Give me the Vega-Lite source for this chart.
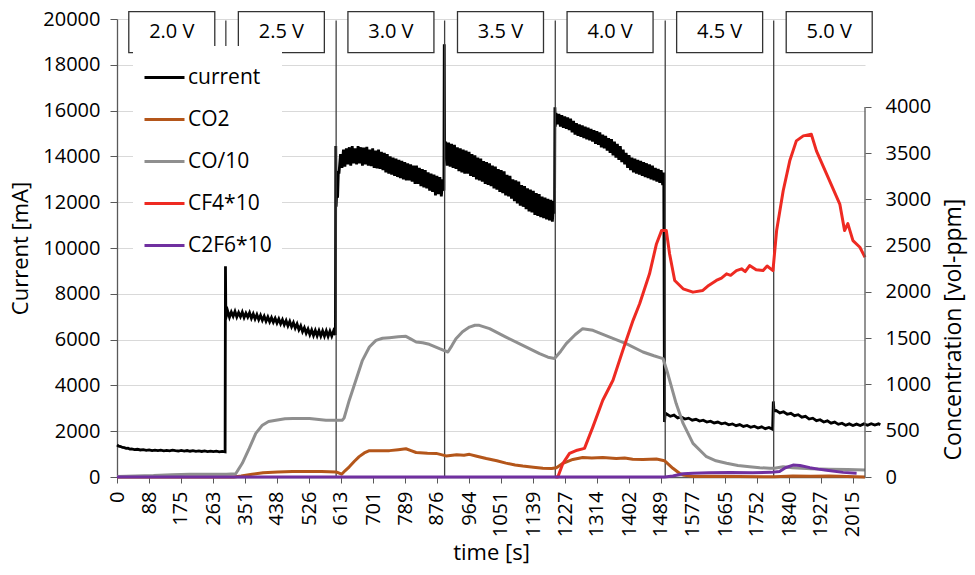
{
  "$schema": "https://vega.github.io/schema/vega-lite/v6.json",
  "width": 748,
  "height": 458,
  "autosize": {"type": "none"},
  "padding": {"left": 117, "top": 19, "right": 110, "bottom": 98},
  "background": "white",
  "config": {
    "view": {"stroke": null},
    "font": "Open Sans",
    "axis": {
      "labelFont": "Open Sans", "labelFontSize": 20, "labelColor": "#000000",
      "titleFont": "Open Sans", "titleFontSize": 22, "titleFontWeight": "normal", "titleColor": "#000000",
      "domainColor": "#595959", "tickColor": "#595959", "gridColor": "#d9d9d9"
    }
  },
  "datasets": {
    "cur": [
      {"t":0,"v":1400},{"t":5,"v":1350},{"t":10,"v":1330},{"t":15,"v":1290},{"t":20,"v":1280},{"t":25,"v":1250},{"t":30,"v":1255},{"t":35,"v":1220},{"t":40,"v":1230},{"t":48,"v":1195},{"t":56,"v":1210},{"t":64,"v":1180},{"t":72,"v":1195},{"t":80,"v":1160},{"t":88,"v":1185},{"t":96,"v":1150},{"t":104,"v":1175},{"t":112,"v":1150},{"t":120,"v":1170},{"t":128,"v":1140},{"t":136,"v":1165},{"t":144,"v":1140},{"t":152,"v":1170},{"t":160,"v":1150},{"t":168,"v":1135},{"t":176,"v":1160},{"t":184,"v":1130},{"t":192,"v":1155},{"t":200,"v":1125},{"t":208,"v":1150},{"t":216,"v":1120},{"t":224,"v":1140},{"t":232,"v":1115},{"t":240,"v":1140},{"t":248,"v":1110},{"t":256,"v":1130},{"t":264,"v":1105},{"t":272,"v":1125},{"t":280,"v":1100},{"t":288,"v":1120},{"t":296,"v":1100},
      {"t":297,"v":9200},{"t":298,"v":7050},
      {"t":299,"v":7000},{"t":303,"v":7250},{"t":308,"v":6980},{"t":313,"v":7200},{"t":318,"v":7020},{"t":323,"v":7230},{"t":328,"v":6990},{"t":333,"v":7180},{"t":338,"v":7000},{"t":343,"v":7200},{"t":348,"v":6960},{"t":353,"v":7150},{"t":358,"v":6980},{"t":363,"v":7170},{"t":368,"v":6930},{"t":373,"v":7120},{"t":378,"v":6900},{"t":383,"v":7090},{"t":388,"v":6870},{"t":393,"v":7060},{"t":398,"v":6840},{"t":403,"v":7020},{"t":408,"v":6800},{"t":413,"v":6990},{"t":418,"v":6780},{"t":423,"v":6960},{"t":428,"v":6760},{"t":433,"v":6930},{"t":438,"v":6720},{"t":443,"v":6900},{"t":448,"v":6690},{"t":453,"v":6870},{"t":458,"v":6650},{"t":463,"v":6830},{"t":468,"v":6600},{"t":473,"v":6790},{"t":478,"v":6560},{"t":483,"v":6740},{"t":488,"v":6500},{"t":493,"v":6680},{"t":498,"v":6430},{"t":503,"v":6600},{"t":508,"v":6350},{"t":513,"v":6520},{"t":518,"v":6280},{"t":523,"v":6460},{"t":528,"v":6220},{"t":533,"v":6420},{"t":538,"v":6180},{"t":543,"v":6400},{"t":548,"v":6170},{"t":553,"v":6390},{"t":558,"v":6160},{"t":563,"v":6380},{"t":568,"v":6150},{"t":573,"v":6380},{"t":578,"v":6140},{"t":583,"v":6370},{"t":588,"v":6150},{"t":593,"v":6380},{"t":598,"v":6200},
      {"t":599,"v":14450},{"t":600,"v":11800},{"t":602,"v":12600},{"t":604,"v":12200},{"t":606,"v":13300},
      {"t":608,"v":13300},{"t":612,"v":14100},{"t":616,"v":13500},{"t":620,"v":14300},{"t":624,"v":13550},{"t":628,"v":14350},{"t":632,"v":13650},{"t":636,"v":14400},{"t":640,"v":13600},{"t":644,"v":14450},{"t":648,"v":13700},{"t":652,"v":14350},{"t":656,"v":13650},{"t":660,"v":14450},{"t":664,"v":13700},{"t":668,"v":14400},{"t":672,"v":13600},{"t":676,"v":14380},{"t":680,"v":13650},{"t":684,"v":14420},{"t":688,"v":13600},{"t":692,"v":14300},{"t":696,"v":13580},{"t":700,"v":14350},{"t":704,"v":13500},{"t":708,"v":14250},{"t":712,"v":13480},{"t":716,"v":14300},{"t":720,"v":13450},{"t":724,"v":14200},{"t":728,"v":13400},{"t":732,"v":14150},{"t":736,"v":13300},{"t":740,"v":14100},{"t":744,"v":13250},{"t":748,"v":14000},{"t":752,"v":13200},{"t":756,"v":13950},{"t":760,"v":13150},{"t":764,"v":13900},{"t":768,"v":13100},{"t":772,"v":13850},{"t":776,"v":13050},{"t":780,"v":13800},{"t":784,"v":13000},{"t":788,"v":13750},{"t":792,"v":12950},{"t":796,"v":13700},{"t":800,"v":12950},{"t":804,"v":13650},{"t":808,"v":12900},{"t":812,"v":13600},{"t":816,"v":12800},{"t":820,"v":13600},{"t":824,"v":12800},{"t":828,"v":13500},{"t":832,"v":12700},{"t":836,"v":13450},{"t":840,"v":12650},{"t":844,"v":13400},{"t":848,"v":12600},{"t":852,"v":13300},{"t":856,"v":12500},{"t":860,"v":13250},{"t":864,"v":12450},{"t":868,"v":13200},{"t":872,"v":12300},{"t":876,"v":13150},{"t":880,"v":12350},{"t":884,"v":13100},{"t":888,"v":12250},{"t":892,"v":13000},{"t":895,"v":12500},
      {"t":896,"v":18900},{"t":897,"v":14000},
      {"t":900,"v":14650},{"t":904,"v":13600},{"t":908,"v":14600},{"t":912,"v":13550},{"t":916,"v":14550},{"t":920,"v":13500},{"t":924,"v":14500},{"t":928,"v":13450},{"t":932,"v":14400},{"t":936,"v":13350},{"t":940,"v":14350},{"t":944,"v":13300},{"t":948,"v":14300},{"t":952,"v":13250},{"t":956,"v":14250},{"t":960,"v":13250},{"t":964,"v":14200},{"t":968,"v":13150},{"t":972,"v":14100},{"t":976,"v":13100},{"t":980,"v":14050},{"t":984,"v":13000},{"t":988,"v":13950},{"t":992,"v":12950},{"t":996,"v":13900},{"t":1000,"v":12900},{"t":1004,"v":13800},{"t":1008,"v":12800},{"t":1012,"v":13750},{"t":1016,"v":12750},{"t":1020,"v":13700},{"t":1024,"v":12700},{"t":1028,"v":13600},{"t":1032,"v":12600},{"t":1036,"v":13550},{"t":1040,"v":12550},{"t":1044,"v":13450},{"t":1048,"v":12450},{"t":1052,"v":13400},{"t":1056,"v":12400},{"t":1060,"v":13350},{"t":1064,"v":12300},{"t":1068,"v":13200},{"t":1072,"v":12250},{"t":1076,"v":13150},{"t":1080,"v":12150},{"t":1084,"v":13000},{"t":1088,"v":12050},{"t":1092,"v":12950},{"t":1096,"v":11950},{"t":1100,"v":12900},{"t":1104,"v":11850},{"t":1108,"v":12750},{"t":1112,"v":11800},{"t":1116,"v":12700},{"t":1120,"v":11700},{"t":1124,"v":12600},{"t":1128,"v":11600},{"t":1132,"v":12550},{"t":1136,"v":11550},{"t":1140,"v":12500},{"t":1144,"v":11450},{"t":1148,"v":12400},{"t":1152,"v":11400},{"t":1156,"v":12350},{"t":1160,"v":11350},{"t":1164,"v":12250},{"t":1168,"v":11300},{"t":1172,"v":12200},{"t":1176,"v":11250},{"t":1180,"v":12150},{"t":1184,"v":11200},{"t":1188,"v":12100},{"t":1192,"v":11150},{"t":1196,"v":12050},
      {"t":1198,"v":11500},{"t":1199,"v":16150},{"t":1200,"v":15300},
      {"t":1202,"v":15900},{"t":1206,"v":15400},{"t":1210,"v":15850},{"t":1214,"v":15300},{"t":1218,"v":15800},{"t":1222,"v":15250},{"t":1226,"v":15750},{"t":1230,"v":15200},{"t":1234,"v":15700},{"t":1238,"v":15150},{"t":1242,"v":15650},{"t":1246,"v":15050},{"t":1250,"v":15550},{"t":1254,"v":14950},{"t":1258,"v":15450},{"t":1262,"v":14900},{"t":1266,"v":15400},{"t":1270,"v":14850},{"t":1274,"v":15350},{"t":1278,"v":14800},{"t":1282,"v":15300},{"t":1286,"v":14750},{"t":1290,"v":15250},{"t":1294,"v":14700},{"t":1298,"v":15200},{"t":1302,"v":14650},{"t":1306,"v":15150},{"t":1310,"v":14550},{"t":1314,"v":15100},{"t":1318,"v":14500},{"t":1322,"v":15050},{"t":1326,"v":14400},{"t":1330,"v":14950},{"t":1334,"v":14350},{"t":1338,"v":14900},{"t":1342,"v":14250},{"t":1346,"v":14800},{"t":1350,"v":14150},{"t":1354,"v":14750},{"t":1358,"v":14050},{"t":1362,"v":14650},{"t":1366,"v":13950},{"t":1370,"v":14550},{"t":1374,"v":13850},{"t":1378,"v":14450},{"t":1382,"v":13750},{"t":1386,"v":14300},{"t":1390,"v":13650},{"t":1394,"v":14150},{"t":1398,"v":13500},{"t":1402,"v":14050},{"t":1406,"v":13400},{"t":1410,"v":13950},{"t":1414,"v":13300},{"t":1418,"v":13900},{"t":1422,"v":13250},{"t":1426,"v":13850},{"t":1430,"v":13200},{"t":1434,"v":13800},{"t":1438,"v":13150},{"t":1442,"v":13750},{"t":1446,"v":13100},{"t":1450,"v":13700},{"t":1454,"v":13050},{"t":1458,"v":13650},{"t":1462,"v":13000},{"t":1466,"v":13600},{"t":1470,"v":12950},{"t":1474,"v":13500},{"t":1478,"v":12900},{"t":1482,"v":13450},{"t":1486,"v":12850},{"t":1490,"v":13400},{"t":1494,"v":12750},{"t":1497,"v":13300},
      {"t":1499,"v":2400},{"t":1501,"v":2800},
      {"t":1505,"v":2750},{"t":1515,"v":2650},{"t":1525,"v":2700},{"t":1535,"v":2580},{"t":1545,"v":2620},{"t":1555,"v":2530},{"t":1565,"v":2570},{"t":1575,"v":2480},{"t":1585,"v":2520},{"t":1595,"v":2440},{"t":1605,"v":2480},{"t":1615,"v":2400},{"t":1625,"v":2440},{"t":1635,"v":2360},{"t":1645,"v":2400},{"t":1655,"v":2320},{"t":1665,"v":2360},{"t":1675,"v":2280},{"t":1685,"v":2320},{"t":1695,"v":2240},{"t":1705,"v":2290},{"t":1715,"v":2210},{"t":1725,"v":2250},{"t":1735,"v":2170},{"t":1745,"v":2220},{"t":1755,"v":2140},{"t":1765,"v":2190},{"t":1775,"v":2110},{"t":1785,"v":2160},{"t":1795,"v":2080},
      {"t":1797,"v":3300},{"t":1799,"v":2880},
      {"t":1805,"v":2900},{"t":1815,"v":2800},{"t":1825,"v":2850},{"t":1835,"v":2740},{"t":1845,"v":2780},{"t":1855,"v":2680},{"t":1865,"v":2720},{"t":1875,"v":2610},{"t":1885,"v":2650},{"t":1895,"v":2530},{"t":1905,"v":2570},{"t":1915,"v":2460},{"t":1925,"v":2500},{"t":1935,"v":2400},{"t":1945,"v":2450},{"t":1955,"v":2350},{"t":1965,"v":2400},{"t":1975,"v":2300},{"t":1985,"v":2350},{"t":1995,"v":2260},{"t":2005,"v":2320},{"t":2015,"v":2250},{"t":2025,"v":2310},{"t":2035,"v":2250},{"t":2045,"v":2320},{"t":2055,"v":2260},{"t":2065,"v":2330},{"t":2075,"v":2270},{"t":2085,"v":2320},{"t":2090,"v":2280}
    ],
    "gas": [
      {"s":"CO2","t":0,"v":0},{"s":"CO2","t":320,"v":0},{"s":"CO2","t":340,"v":10},{"s":"CO2","t":370,"v":30},{"s":"CO2","t":400,"v":45},{"s":"CO2","t":440,"v":55},{"s":"CO2","t":480,"v":60},{"s":"CO2","t":520,"v":60},{"s":"CO2","t":560,"v":60},{"s":"CO2","t":600,"v":55},{"s":"CO2","t":615,"v":30},{"s":"CO2","t":625,"v":70},{"s":"CO2","t":636,"v":110},{"s":"CO2","t":650,"v":170},{"s":"CO2","t":663,"v":220},{"s":"CO2","t":677,"v":260},{"s":"CO2","t":691,"v":285},{"s":"CO2","t":720,"v":285},{"s":"CO2","t":746,"v":285},{"s":"CO2","t":770,"v":295},{"s":"CO2","t":791,"v":305},{"s":"CO2","t":805,"v":285},{"s":"CO2","t":819,"v":265},{"s":"CO2","t":850,"v":258},{"s":"CO2","t":874,"v":255},{"s":"CO2","t":901,"v":228},{"s":"CO2","t":930,"v":240},{"s":"CO2","t":950,"v":235},{"s":"CO2","t":965,"v":245},{"s":"CO2","t":985,"v":225},{"s":"CO2","t":1011,"v":200},{"s":"CO2","t":1040,"v":175},{"s":"CO2","t":1065,"v":150},{"s":"CO2","t":1090,"v":130},{"s":"CO2","t":1111,"v":118},{"s":"CO2","t":1140,"v":105},{"s":"CO2","t":1166,"v":95},{"s":"CO2","t":1190,"v":92},{"s":"CO2","t":1203,"v":100},{"s":"CO2","t":1221,"v":148},{"s":"CO2","t":1248,"v":190},{"s":"CO2","t":1275,"v":210},{"s":"CO2","t":1300,"v":205},{"s":"CO2","t":1330,"v":210},{"s":"CO2","t":1367,"v":200},{"s":"CO2","t":1390,"v":205},{"s":"CO2","t":1412,"v":192},{"s":"CO2","t":1440,"v":190},{"s":"CO2","t":1477,"v":195},{"s":"CO2","t":1499,"v":176},{"s":"CO2","t":1522,"v":94},{"s":"CO2","t":1540,"v":40},{"s":"CO2","t":1550,"v":22},{"s":"CO2","t":1577,"v":5},{"s":"CO2","t":1620,"v":8},{"s":"CO2","t":1700,"v":5},{"s":"CO2","t":1800,"v":3},{"s":"CO2","t":1850,"v":10},{"s":"CO2","t":1900,"v":8},{"s":"CO2","t":1950,"v":12},{"s":"CO2","t":2000,"v":5},{"s":"CO2","t":2048,"v":0},
      {"s":"CO/10","t":0,"v":5},{"s":"CO/10","t":50,"v":10},{"s":"CO/10","t":100,"v":15},{"s":"CO/10","t":150,"v":25},{"s":"CO/10","t":200,"v":30},{"s":"CO/10","t":250,"v":30},{"s":"CO/10","t":300,"v":30},{"s":"CO/10","t":325,"v":35},{"s":"CO/10","t":343,"v":148},{"s":"CO/10","t":362,"v":309},{"s":"CO/10","t":380,"v":471},{"s":"CO/10","t":398,"v":560},{"s":"CO/10","t":415,"v":600},{"s":"CO/10","t":435,"v":614},{"s":"CO/10","t":460,"v":630},{"s":"CO/10","t":481,"v":633},{"s":"CO/10","t":527,"v":633},{"s":"CO/10","t":572,"v":614},{"s":"CO/10","t":617,"v":614},{"s":"CO/10","t":622,"v":640},{"s":"CO/10","t":636,"v":830},{"s":"CO/10","t":654,"v":1046},{"s":"CO/10","t":672,"v":1261},{"s":"CO/10","t":691,"v":1405},{"s":"CO/10","t":709,"v":1477},{"s":"CO/10","t":727,"v":1500},{"s":"CO/10","t":746,"v":1506},{"s":"CO/10","t":770,"v":1515},{"s":"CO/10","t":791,"v":1520},{"s":"CO/10","t":805,"v":1490},{"s":"CO/10","t":819,"v":1459},{"s":"CO/10","t":837,"v":1450},{"s":"CO/10","t":855,"v":1434},{"s":"CO/10","t":883,"v":1387},{"s":"CO/10","t":906,"v":1351},{"s":"CO/10","t":917,"v":1420},{"s":"CO/10","t":928,"v":1495},{"s":"CO/10","t":946,"v":1570},{"s":"CO/10","t":965,"v":1620},{"s":"CO/10","t":980,"v":1640},{"s":"CO/10","t":992,"v":1639},{"s":"CO/10","t":1020,"v":1603},{"s":"CO/10","t":1065,"v":1512},{"s":"CO/10","t":1111,"v":1423},{"s":"CO/10","t":1157,"v":1333},{"s":"CO/10","t":1180,"v":1295},{"s":"CO/10","t":1198,"v":1280},{"s":"CO/10","t":1215,"v":1360},{"s":"CO/10","t":1230,"v":1441},{"s":"CO/10","t":1255,"v":1540},{"s":"CO/10","t":1275,"v":1603},{"s":"CO/10","t":1303,"v":1585},{"s":"CO/10","t":1349,"v":1512},{"s":"CO/10","t":1394,"v":1441},{"s":"CO/10","t":1440,"v":1351},{"s":"CO/10","t":1470,"v":1310},{"s":"CO/10","t":1495,"v":1280},{"s":"CO/10","t":1508,"v":1118},{"s":"CO/10","t":1531,"v":794},{"s":"CO/10","t":1550,"v":579},{"s":"CO/10","t":1577,"v":363},{"s":"CO/10","t":1614,"v":219},{"s":"CO/10","t":1640,"v":175},{"s":"CO/10","t":1669,"v":148},{"s":"CO/10","t":1700,"v":125},{"s":"CO/10","t":1732,"v":111},{"s":"CO/10","t":1760,"v":100},{"s":"CO/10","t":1787,"v":94},{"s":"CO/10","t":1800,"v":95},{"s":"CO/10","t":1824,"v":110},{"s":"CO/10","t":1850,"v":100},{"s":"CO/10","t":1900,"v":90},{"s":"CO/10","t":1950,"v":85},{"s":"CO/10","t":2000,"v":80},{"s":"CO/10","t":2048,"v":75},
      {"s":"CF4*10","t":1200,"v":0},{"s":"CF4*10","t":1207,"v":0},{"s":"CF4*10","t":1221,"v":148},{"s":"CF4*10","t":1239,"v":255},{"s":"CF4*10","t":1260,"v":290},{"s":"CF4*10","t":1280,"v":309},{"s":"CF4*10","t":1303,"v":542},{"s":"CF4*10","t":1330,"v":830},{"s":"CF4*10","t":1358,"v":1046},{"s":"CF4*10","t":1385,"v":1369},{"s":"CF4*10","t":1413,"v":1693},{"s":"CF4*10","t":1431,"v":1872},{"s":"CF4*10","t":1458,"v":2196},{"s":"CF4*10","t":1477,"v":2519},{"s":"CF4*10","t":1491,"v":2663},{"s":"CF4*10","t":1504,"v":2663},{"s":"CF4*10","t":1513,"v":2411},{"s":"CF4*10","t":1527,"v":2124},{"s":"CF4*10","t":1550,"v":2034},{"s":"CF4*10","t":1577,"v":1998},{"s":"CF4*10","t":1604,"v":2016},{"s":"CF4*10","t":1620,"v":2070},{"s":"CF4*10","t":1641,"v":2124},{"s":"CF4*10","t":1655,"v":2150},{"s":"CF4*10","t":1669,"v":2196},{"s":"CF4*10","t":1680,"v":2180},{"s":"CF4*10","t":1696,"v":2231},{"s":"CF4*10","t":1710,"v":2250},{"s":"CF4*10","t":1720,"v":2220},{"s":"CF4*10","t":1732,"v":2285},{"s":"CF4*10","t":1750,"v":2240},{"s":"CF4*10","t":1769,"v":2231},{"s":"CF4*10","t":1780,"v":2280},{"s":"CF4*10","t":1796,"v":2231},{"s":"CF4*10","t":1806,"v":2663},{"s":"CF4*10","t":1824,"v":3094},{"s":"CF4*10","t":1842,"v":3417},{"s":"CF4*10","t":1860,"v":3633},{"s":"CF4*10","t":1879,"v":3687},{"s":"CF4*10","t":1901,"v":3705},{"s":"CF4*10","t":1915,"v":3525},{"s":"CF4*10","t":1943,"v":3274},{"s":"CF4*10","t":1979,"v":2950},{"s":"CF4*10","t":1992,"v":2663},{"s":"CF4*10","t":2001,"v":2738},{"s":"CF4*10","t":2015,"v":2555},{"s":"CF4*10","t":2034,"v":2483},{"s":"CF4*10","t":2048,"v":2375},
      {"s":"C2F6*10","t":0,"v":0},{"s":"C2F6*10","t":1500,"v":0},{"s":"C2F6*10","t":1522,"v":10},{"s":"C2F6*10","t":1550,"v":35},{"s":"C2F6*10","t":1577,"v":40},{"s":"C2F6*10","t":1620,"v":45},{"s":"C2F6*10","t":1680,"v":48},{"s":"C2F6*10","t":1740,"v":45},{"s":"C2F6*10","t":1790,"v":50},{"s":"C2F6*10","t":1814,"v":60},{"s":"C2F6*10","t":1830,"v":100},{"s":"C2F6*10","t":1851,"v":129},{"s":"C2F6*10","t":1870,"v":125},{"s":"C2F6*10","t":1897,"v":101},{"s":"C2F6*10","t":1920,"v":85},{"s":"C2F6*10","t":1943,"v":72},{"s":"C2F6*10","t":1988,"v":50},{"s":"C2F6*10","t":2025,"v":40}
    ],
    "volts": [
      {"volt":"2.0 V","t":150},{"volt":"2.5 V","t":450},{"volt":"3.0 V","t":750},{"volt":"3.5 V","t":1050},{"volt":"4.0 V","t":1350},{"volt":"4.5 V","t":1650},{"volt":"5.0 V","t":1950}
    ],
    "seps": [{"t":600},{"t":897},{"t":1200},{"t":1501},{"t":1798}],
    "sepShort": [{"t":298}],
    "rightAxis": [{"t":2048}]
  },
  "encoding": {
    "x": {
      "field": "t", "type": "quantitative",
      "scale": {"domain": [0, 2048], "nice": false, "zero": false},
      "axis": {
        "title": "time [s]",
        "values": [0,88,175,263,351,438,526,613,701,789,876,964,1051,1139,1227,1314,1402,1489,1577,1665,1752,1840,1927,2015],
        "format": "d", "labelAngle": 270, "labelPadding": 8, "tickSize": 6, "grid": false,
        "titlePadding": 6, "labelOverlap": false, "domain": true, "domainWidth": 1.3
      }
    }
  },
  "layer": [
    {
      "data": {"name": "cur"},
      "mark": {"type": "line", "strokeWidth": 2.8, "strokeJoin": "miter"},
      "encoding": {
        "y": {
          "field": "v", "type": "quantitative",
          "scale": {"domain": [0, 20000], "nice": false},
          "axis": {
            "title": "Current [mA]",
            "values": [0,2000,4000,6000,8000,10000,12000,14000,16000,18000,20000],
            "format": "d", "tickSize": 7, "labelPadding": 10, "grid": true, "titlePadding": 10,
            "domain": true, "domainWidth": 1.3, "domainColor": "#595959"
          }
        },
        "color": {
          "datum": "current", "type": "nominal",
          "scale": {"domain": ["current","CO2","CO/10","CF4*10","C2F6*10"], "range": ["#000000","#b4561a","#8f8f8f","#ee2a22","#7030a0"]},
          "legend": {
            "title": null, "orient": "none", "legendX": 16, "legendY": 27, "padding": 10, "fillColor": "white",
            "symbolType": "stroke", "symbolSize": 1600, "symbolStrokeWidth": 3, "labelFontSize": 21, "labelFont": "Open Sans",
            "labelColor": "#000000", "rowPadding": 10, "labelOffset": 2, "labelLimit": 300
          }
        }
      }
    },
    {
      "data": {"name": "seps"},
      "mark": {"type": "rule", "color": "#404040", "strokeWidth": 1.3},
      "encoding": {
        "y": {"datum": 0, "type": "quantitative", "scale": {"domain": [0, 20000], "nice": false}, "axis": null},
        "y2": {"datum": 19930}
      }
    },
    {
      "data": {"name": "sepShort"},
      "mark": {"type": "rule", "color": "#404040", "strokeWidth": 1.3},
      "encoding": {
        "y": {"datum": 18550, "type": "quantitative", "scale": {"domain": [0, 20000], "nice": false}, "axis": null},
        "y2": {"datum": 19930}
      }
    },
    {
      "data": {"name": "volts"},
      "mark": {"type": "point", "shape": "M-1,-0.477L1,-0.477L1,0.477L-1,0.477Z", "size": 7396, "filled": true, "fill": "white", "stroke": "#333333", "strokeWidth": 1.3, "opacity": 1, "fillOpacity": 1, "strokeOpacity": 1},
      "encoding": {
        "y": {"datum": 19423, "type": "quantitative", "scale": {"domain": [0, 20000], "nice": false}, "axis": null}
      }
    },
    {
      "data": {"name": "volts"},
      "mark": {"type": "text", "fontSize": 20, "font": "Open Sans", "color": "#000000", "align": "center", "baseline": "middle"},
      "encoding": {
        "y": {"datum": 19423, "type": "quantitative", "scale": {"domain": [0, 20000], "nice": false}, "axis": null},
        "text": {"field": "volt"}
      }
    },
    {
      "data": {"name": "gas"},
      "mark": {"type": "line", "strokeWidth": 3, "strokeJoin": "round"},
      "encoding": {
        "y": {
          "field": "v", "type": "quantitative",
          "scale": {"domain": [0, 4950], "nice": false},
          "axis": {
            "orient": "right", "title": "Concentration [vol-ppm]", "titleAngle": 270, "titleBaseline": "top", "titleY": 310, "titleFontSize": 23,
            "values": [0,500,1000,1500,2000,2500,3000,3500,4000], "format": "d",
            "domain": false, "grid": false, "tickSize": 6, "labelPadding": 14, "titlePadding": 12
          }
        },
        "color": {
          "field": "s", "type": "nominal",
          "scale": {"domain": ["current","CO2","CO/10","CF4*10","C2F6*10"], "range": ["#000000","#b4561a","#8f8f8f","#ee2a22","#7030a0"]},
          "legend": {
            "title": null, "orient": "none", "legendX": 16, "legendY": 27, "padding": 10, "fillColor": "white",
            "symbolType": "stroke", "symbolSize": 1600, "symbolStrokeWidth": 3, "labelFontSize": 21, "labelFont": "Open Sans",
            "labelColor": "#000000", "rowPadding": 10, "labelOffset": 2, "labelLimit": 300
          }
        }
      }
    },
    {
      "data": {"name": "rightAxis"},
      "mark": {"type": "rule", "color": "#595959", "strokeWidth": 1.3},
      "encoding": {
        "y": {"datum": 0, "type": "quantitative", "scale": {"domain": [0, 4950], "nice": false}, "axis": null},
        "y2": {"datum": 4000}
      }
    }
  ],
  "resolve": {"scale": {"y": "independent"}}
}
